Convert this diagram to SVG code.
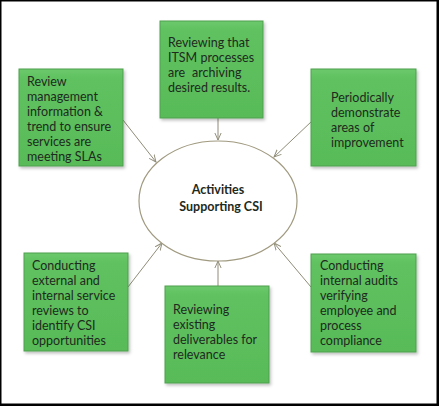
<svg xmlns="http://www.w3.org/2000/svg" width="439" height="406" viewBox="0 0 439 406">
<defs>
<linearGradient id="g" x1="0" y1="0" x2="0" y2="1">
<stop offset="0" stop-color="#6cc96c"/>
<stop offset="0.1" stop-color="#5fc15f"/>
<stop offset="1" stop-color="#58bb58"/>
</linearGradient>
<filter id="sh" x="-10%" y="-10%" width="125%" height="125%">
<feDropShadow dx="1.5" dy="2" stdDeviation="1.5" flood-color="#000" flood-opacity="0.25"/>
</filter>
<marker id="ah" viewBox="0 0 10 10" refX="9" refY="5" markerWidth="8" markerHeight="8" orient="auto" markerUnits="userSpaceOnUse">
<path d="M0,1 L9,5 L0,9" fill="none" stroke="#8f8c78" stroke-width="1.2"/>
</marker>
<style>
.box{fill:url(#g);stroke:#4f9f4f;stroke-width:1;filter:url(#sh)}
.t{font-family:Lato,"Open Sans","Liberation Sans",sans-serif;font-size:12.5px;fill:#1e2a1e}
.c{stroke:#8f8c78;stroke-width:1;fill:none;marker-end:url(#ah)}
</style>
</defs>
<rect x="0" y="0" width="439" height="406" fill="#000"/>
<rect x="1.5" y="1.5" width="435" height="402" fill="#fff"/>
<g id="connectors">
<line class="c" x1="123" y1="120" x2="156" y2="162"/>
<line class="c" x1="218" y1="118" x2="218" y2="140"/>
<line class="c" x1="312" y1="121" x2="274" y2="157"/>
<line class="c" x1="128" y1="287" x2="162" y2="243"/>
<line class="c" x1="218" y1="286" x2="218" y2="261"/>
<line class="c" x1="311" y1="287" x2="274" y2="243"/>
</g>
<g id="center">
<ellipse cx="218" cy="201" rx="79" ry="60" fill="#fff" stroke="#a09a80" stroke-width="1.2"/>
<text class="t" x="218" y="194" text-anchor="middle" font-weight="bold" font-size="13.5px">Activities</text>
<text class="t" x="221" y="211" text-anchor="middle" font-weight="bold" font-size="13.5px">Supporting CSI</text>
</g>
<g id="n1">
<rect class="box" x="19" y="69" width="104" height="97"/>
<text class="t"><tspan x="27" y="86">Review</tspan><tspan x="27" y="101">management</tspan><tspan x="27" y="116">information &amp;</tspan><tspan x="27" y="131">trend to ensure</tspan><tspan x="27" y="146">services are</tspan><tspan x="27" y="161">meeting SLAs</tspan></text>
</g>
<g id="n2">
<rect class="box" x="160" y="21" width="103" height="97"/>
<text class="t"><tspan x="168" y="47">Reviewing that</tspan><tspan x="168" y="62">ITSM processes</tspan><tspan x="168" y="77">are</tspan><tspan dx="7">archiving</tspan><tspan x="168" y="92">desired results.</tspan></text>
</g>
<g id="n3">
<rect class="box" x="311" y="69" width="105" height="97"/>
<text class="t"><tspan x="331" y="102">Periodically</tspan><tspan x="331" y="117">demonstrate</tspan><tspan x="331" y="132">areas of</tspan><tspan x="331" y="147">improvement</tspan></text>
</g>
<g id="n4">
<rect class="box" x="24" y="253" width="104" height="98"/>
<text class="t"><tspan x="32" y="270">Conducting</tspan><tspan x="32" y="285">external and</tspan><tspan x="32" y="300">internal service</tspan><tspan x="32" y="315">reviews to</tspan><tspan x="32" y="330">identify CSI</tspan><tspan x="32" y="345">opportunities</tspan></text>
</g>
<g id="n5">
<rect class="box" x="165" y="286" width="104" height="97"/>
<text class="t"><tspan x="173" y="314">Reviewing</tspan><tspan x="173" y="329">existing</tspan><tspan x="173" y="344">deliverables for</tspan><tspan x="173" y="359">relevance</tspan></text>
</g>
<g id="n6">
<rect class="box" x="311" y="254" width="105" height="98"/>
<text class="t"><tspan x="320" y="270">Conducting</tspan><tspan x="320" y="285">internal audits</tspan><tspan x="320" y="300">verifying</tspan><tspan x="320" y="315">employee and</tspan><tspan x="320" y="330">process</tspan><tspan x="320" y="345">compliance</tspan></text>
</g>
</svg>
